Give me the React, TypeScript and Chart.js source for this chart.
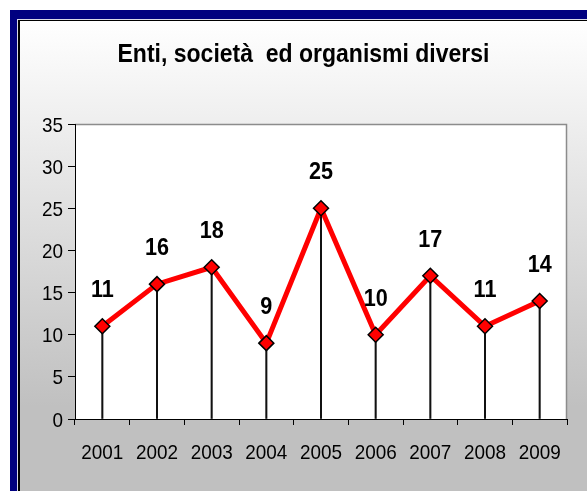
import React, { useEffect, useRef } from "react";
import { Chart, registerables } from "chart.js";

Chart.register(...registerables);

const title = "Enti, società  ed organismi diversi";
const years = ["2001", "2002", "2003", "2004", "2005", "2006", "2007", "2008", "2009"];
const values = [11, 16, 18, 9, 25, 10, 17, 11, 14];
const yMin = 0;
const yMax = 35;
const yStep = 5;

const FONT = "'Liberation Sans', Arial, sans-serif";

function condensedText(ctx: any, text: string, x: number, y: number, font: string, sx: number, align: string) {
  ctx.save();
  ctx.font = font;
  ctx.fillStyle = "#000";
  ctx.textAlign = align;
  ctx.textBaseline = "alphabetic";
  ctx.translate(x, y);
  ctx.scale(sx, 1);
  ctx.fillText(text, 0, 0);
  ctx.restore();
}

const plotBg = {
  id: "plotBg",
  beforeDraw(chart: any) {
    const { ctx, chartArea: a } = chart;
    ctx.save();
    ctx.fillStyle = "#ffffff";
    ctx.fillRect(a.left, a.top, a.right - a.left, a.bottom - a.top);
    ctx.strokeStyle = "#8c8c8c";
    ctx.lineWidth = 1.5;
    ctx.beginPath();
    ctx.moveTo(a.left, a.top + 0.5);
    ctx.lineTo(a.right - 0.5, a.top + 0.5);
    ctx.lineTo(a.right - 0.5, a.bottom);
    ctx.stroke();
    ctx.restore();
  },
};

const textLayer = {
  id: "textLayer",
  afterDraw(chart: any) {
    const { ctx } = chart;
    // title
    condensedText(ctx, title, chart.width / 2, 41, `bold 25px ${FONT}`, 0.92, "center");
    // y tick labels
    const ys = chart.scales.y;
    ys.ticks.forEach((t: any, i: number) => {
      const py = ys.getPixelForTick(i);
      condensedText(ctx, String(t.value), ys.right - 12, py + 7.5, `21px ${FONT}`, 0.9, "right");
    });
    // x tick labels
    const xs = chart.scales.x;
    xs.ticks.forEach((t: any, i: number) => {
      const px = xs.getPixelForTick(i);
      condensedText(ctx, String(years[t.value] ?? t.label), px, xs.top + 40, `21px ${FONT}`, 0.9, "center");
    });
    // value labels
    const meta = chart.getDatasetMeta(0);
    const data = chart.data.datasets[0].data;
    meta.data.forEach((el: any, i: number) => {
      condensedText(ctx, String(data[i]), el.x, el.y - 29, `bold 24px ${FONT}`, 0.9, "center");
    });
  },
};

export default function App() {
  const ref = useRef<HTMLCanvasElement>(null);
  useEffect(() => {
    if (!ref.current) return;
    const chart = new Chart(ref.current, {
      type: "line",
      data: {
        labels: years,
        datasets: [
          {
            type: "line",
            data: values,
            borderColor: "#ff0000",
            borderWidth: 5,
            pointStyle: "rectRot",
            pointRadius: 7.5,
            pointBackgroundColor: "#ff0000",
            pointBorderColor: "#000000",
            pointBorderWidth: 1.5,
            tension: 0,
            order: 0,
          } as any,
          {
            type: "bar",
            data: values,
            backgroundColor: "#111111",
            barThickness: 1.4,
            order: 1,
          } as any,
        ],
      },
      options: {
        responsive: false,
        animation: false,
        layout: { padding: { left: 0, right: 20, top: 103, bottom: 0 } },
        plugins: {
          legend: { display: false },
          tooltip: { enabled: false },
          title: { display: false },
        },
        scales: {
          x: {
            type: "category",
            offset: true,
            grid: {
              offset: true,
              drawOnChartArea: false,
              drawTicks: true,
              tickLength: 6,
              color: "#000",
            },
            border: { display: true, color: "#000", width: 1 },
            ticks: { display: false, autoSkip: false, maxRotation: 0 },
            afterFit(scale: any) {
              scale.height = 72;
            },
          },
          y: {
            min: yMin,
            max: yMax,
            grid: {
              drawOnChartArea: false,
              drawTicks: true,
              tickLength: 7,
              color: "#000",
            },
            border: { display: true, color: "#000", width: 1 },
            ticks: { display: false, stepSize: yStep },
            afterFit(scale: any) {
              scale.width = 55;
            },
          },
        },
      },
      plugins: [plotBg, textLayer],
    });
    return () => chart.destroy();
  }, []);

  return (
    <div style={{ position: "fixed", left: 0, top: 0, width: 587, height: 491, background: "#fff", overflow: "hidden" }}>
      <div style={{ position: "absolute", left: 10, top: 10, width: 600, height: 500, background: "#000080" }} />
      <div style={{ position: "absolute", left: 17, top: 19, width: 600, height: 500, background: "#d8d8e8" }} />
      <div style={{ position: "absolute", left: 18, top: 20, width: 600, height: 500, background: "#000" }} />
      <div
        style={{
          position: "absolute",
          left: 20,
          top: 21,
          width: 567,
          height: 470,
          background: "linear-gradient(to bottom, #ffffff 0%, #c0c0c0 82%, #c0c0c0 100%)",
        }}
      >
        <canvas ref={ref} width={567} height={470} style={{ display: "block" }} />
      </div>
    </div>
  );
}
